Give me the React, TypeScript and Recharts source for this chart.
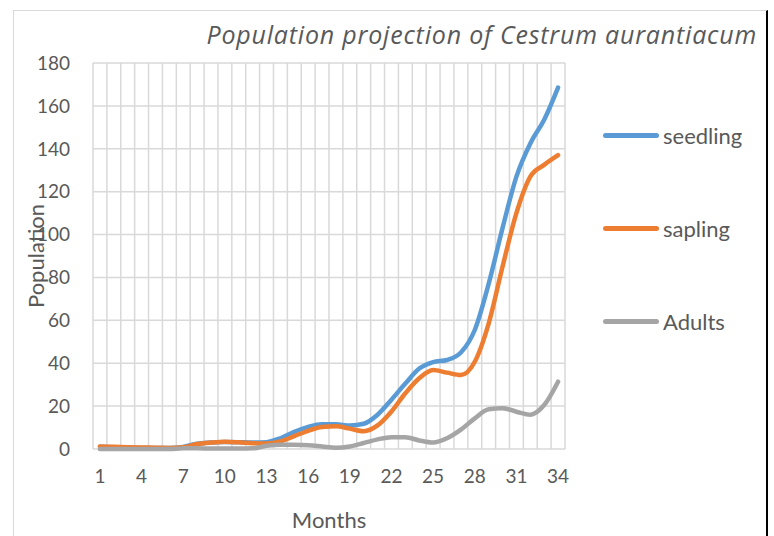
import { LineChart, Line, XAxis, YAxis, CartesianGrid } from "recharts"

const months = Array.from({ length: 34 }, (_, i) => String(i + 1))
const seedling = [1, 0.8, 0.6, 0.5, 0.5, 0.5, 1, 2.5, 3, 3.3, 3.2, 3, 3.2, 5, 8, 10.3, 11.5, 11.5, 11, 11.8, 16, 23, 30.5, 37.5, 40.5, 41.5, 45, 55.5, 77, 103, 127, 142.5, 153.5, 168.5]
const sapling = [1.2, 1, 0.8, 0.7, 0.6, 0.5, 0.8, 2.3, 3, 3.4, 3.1, 2.7, 2.6, 3.5, 6, 8.5, 10.3, 10.6, 9.5, 8.3, 11, 17.5, 26, 33, 36.8, 35.6, 34.5, 40.7, 58.5, 85, 110, 127, 132.5, 137]
const adults = [0, 0, 0, 0, 0, 0, 0.3, 0.3, 0.2, 0.2, 0.2, 0.3, 1.5, 2, 2, 1.8, 1.2, 0.6, 1.2, 2.8, 4.5, 5.5, 5.5, 4, 3, 5, 9, 14.3, 18.5, 19, 17.4, 16, 20.5, 31.4]
const yTicks = [0, 20, 40, 60, 80, 100, 120, 140, 160, 180]

const series = [
  { key: "seedling", name: "seedling", color: "#5B9BD5" },
  { key: "sapling", name: "sapling", color: "#ED7D31" },
  { key: "adults", name: "Adults", color: "#A5A5A5" },
]

const data = months.map((m, i) => ({ month: m, seedling: seedling[i], sapling: sapling[i], adults: adults[i] }))

const FONT = "Lato, 'Open Sans', sans-serif"
const TEXT = "#595959"

export default function App() {
  return (
    <div style={{ position: "absolute", left: 0, top: 0, width: 774, height: 536, background: "#fff", overflow: "hidden" }}>
      <div
        style={{
          position: "absolute", left: 13, top: 10, width: 752, height: 560,
          borderTop: "1px solid #d9d9d9", borderLeft: "1px solid #d9d9d9", borderRight: "2px solid #000",
        }}
      />
      <div
        style={{
          position: "absolute", right: 17, top: 17, fontFamily: "'Open Sans', sans-serif", fontStyle: "italic",
          fontSize: 25, letterSpacing: 0.8, color: TEXT, whiteSpace: "nowrap",
        }}
      >
        Population projection of Cestrum aurantiacum
      </div>
      <div style={{ position: "absolute", left: 603, top: 89 }}>
        {series.map((s) => (
          <div key={s.key} style={{ display: "flex", alignItems: "center", height: 93 }}>
            <div style={{ width: 56, height: 5, borderRadius: 3, background: s.color, marginRight: 4 }} />
            <span style={{ fontFamily: FONT, fontSize: 22, color: TEXT }}>{s.name}</span>
          </div>
        ))}
      </div>
      <div style={{ position: "absolute", left: 0, top: 0 }}>
        <LineChart width={774} height={536} data={data} margin={{ top: 63, right: 209, bottom: 0, left: 0 }}>
          <CartesianGrid
            stroke="#d9d9d9"
            strokeWidth={1.5}
            verticalCoordinatesGenerator={({ offset }: any) => {
              const band = offset.width / months.length
              return months.map((_, i) => offset.left + i * band).concat(offset.left + offset.width)
            }}
          />
          <XAxis
            dataKey="month"
            scale="band"
            interval={2}
            height={87}
            axisLine={false}
            tickLine={false}
            tickMargin={15}
            tick={{ fontFamily: FONT, fontSize: 19, fill: TEXT }}
            label={{ value: "Months", position: "insideBottom", offset: 8, fontFamily: FONT, fontSize: 22, fill: TEXT }}
          />
          <YAxis
            width={93}
            domain={[0, 180]}
            ticks={yTicks}
            axisLine={false}
            tickLine={false}
            tickMargin={17}
            tick={{ fontFamily: FONT, fontSize: 19, fill: TEXT }}
            label={{ value: "Population", angle: -90, position: "center", dx: -10, fontFamily: FONT, fontSize: 22, fill: TEXT }}
          />
          {series.map((s) => (
            <Line
              key={s.key}
              type="monotone"
              dataKey={s.key}
              name={s.name}
              stroke={s.color}
              strokeWidth={4.5}
              strokeLinecap="round"
              dot={false}
              activeDot={false}
              isAnimationActive={false}
            />
          ))}
        </LineChart>
      </div>
    </div>
  )
}
